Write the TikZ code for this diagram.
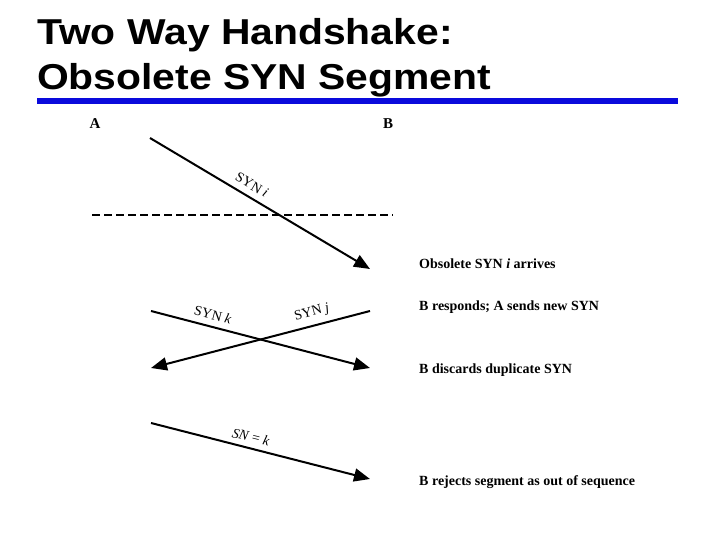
\documentclass[tikz,border=0pt]{standalone}
\usepackage{fontspec}
\setmainfont{Liberation Serif}
\newfontfamily\titlefont{Liberation Sans}
\usetikzlibrary{arrows.meta}
\definecolor{rulblue}{RGB}{10,10,220}
\tikzset{
  titletext/.style={anchor=base west,inner sep=0pt,font=\titlefont\bfseries\fontsize{36}{40}\selectfont},
  endlabel/.style={anchor=base,inner sep=0pt,font=\bfseries\fontsize{15}{17}\selectfont},
  note/.style={anchor=base west,inner sep=0pt,font=\bfseries\fontsize{14}{16}\selectfont},
  seglabel/.style={inner sep=0pt,font=\fontsize{14}{16}\selectfont},
  msg/.style={line width=2pt,-{Triangle[length=16pt,width=13pt]}},
}
\begin{document}
\begin{tikzpicture}[x=1pt,y=-1pt]
\useasboundingbox (0,0) rectangle (720,540);
% title
\node[titletext] (t1) at (37,45) {\scalebox{1.135}[1]{Two Way Handshake:}};
\node[titletext] (t2) at (37,90) {\scalebox{1.135}[1]{Obsolete SYN Segment}};
\fill[rulblue] (37,98) rectangle (678,104);
% end labels
\node[endlabel] (A) at (95,129) {A};
\node[endlabel] (B) at (388,129) {B};
% coordinates
\coordinate (a1) at (150,138);
\coordinate (b1) at (370,269);
\coordinate (d1) at (92,215);
\coordinate (d2) at (393,215);
\coordinate (a2) at (151,311);
\coordinate (b2) at (370,368);
\coordinate (b3) at (370,311);
\coordinate (a3) at (151,368);
\coordinate (a4) at (151,423);
\coordinate (b4) at (370,479);
% messages
\draw[msg] (a1) -- (b1);
\draw[line width=1.4pt,dash pattern=on 8pt off 4pt] (d1) -- (d2);
\draw[msg] (a2) -- (b2);
\draw[msg] (b3) -- (a3);
\draw[msg] (a4) -- (b4);
% segment labels
\node[seglabel,rotate=-30.5] (li) at (252,185) {SYN \textit{i}};
\node[seglabel,rotate=-14.5] (lk) at (213,315) {SYN \textit{k}};
\node[seglabel,rotate=14.5] (lj) at (312,313) {SYN \textit{j}};
\node[seglabel,rotate=-14] (ln) at (251,437) {\textit{SN} = \textit{k}};
% notes
\node[note] (n1) at (419,268) {Obsolete SYN \textit{i} arrives};
\node[note] (n2) at (419,310) {B responds; A sends new SYN};
\node[note] (n3) at (419,373) {B discards duplicate SYN};
\node[note] (n4) at (419,485) {B rejects segment as out of sequence};
\end{tikzpicture}
\end{document}
